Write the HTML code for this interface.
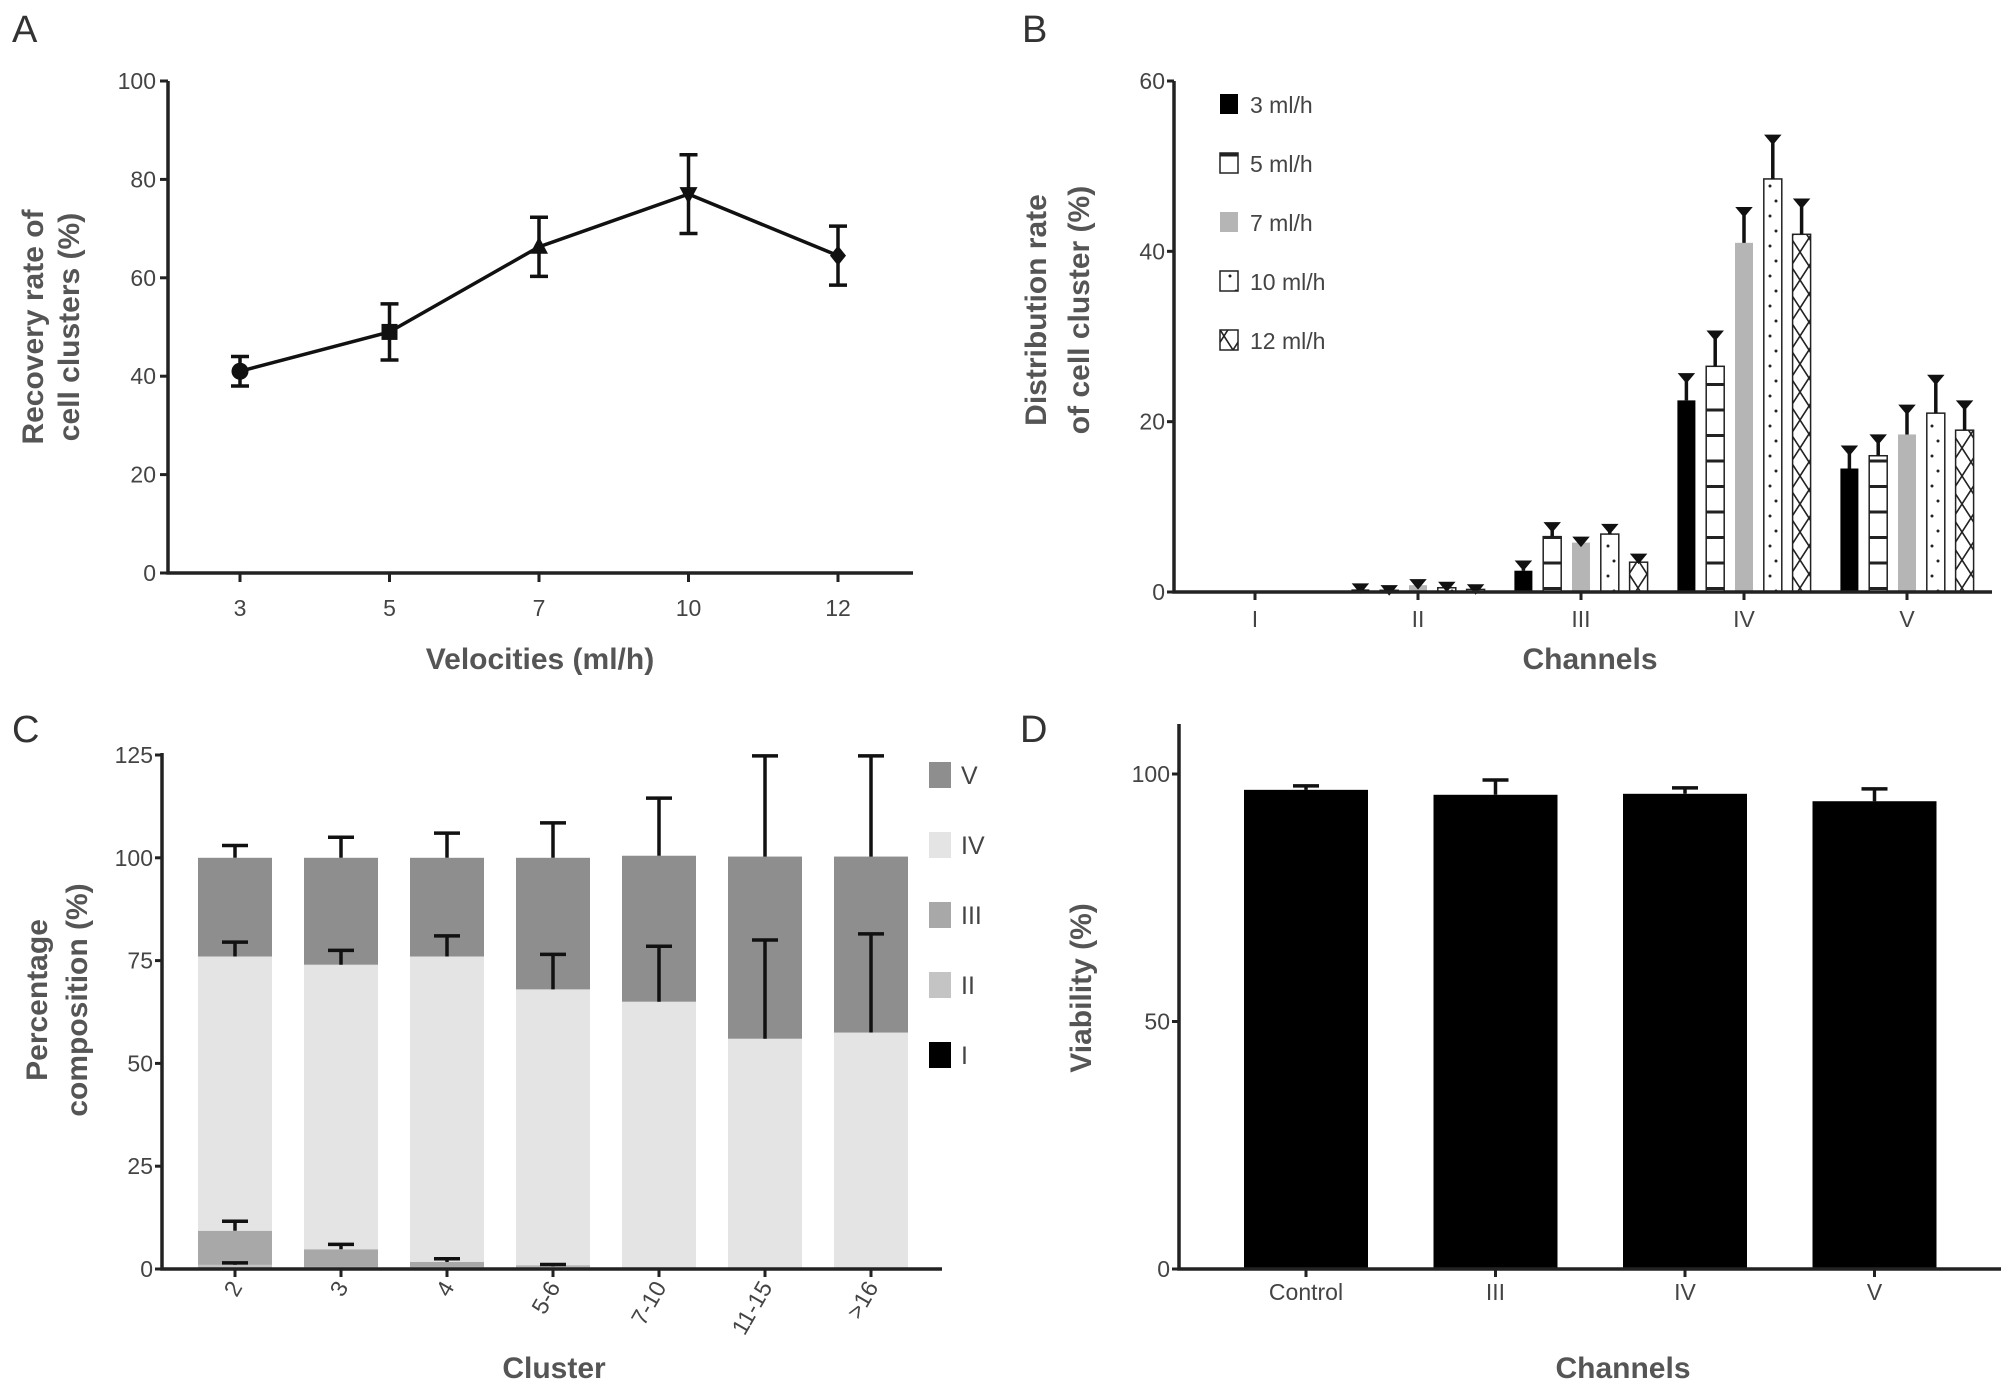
<!DOCTYPE html>
<html><head><meta charset="utf-8"><style>
html,body{margin:0;padding:0;background:#fff;}
svg{display:block;}
text{font-family:"Liberation Sans Narrow","Liberation Sans",sans-serif;fill:#444;}
.t{font-family:"Liberation Sans",sans-serif;font-weight:bold;fill:#555;font-size:30px;}
.p{font-family:"Liberation Sans",sans-serif;font-size:38px;fill:#333;}
</style></head><body>
<svg id="fig" width="2008" height="1391" viewBox="0 0 2008 1391" xmlns="http://www.w3.org/2000/svg">
<defs>
<pattern id="pH" width="18" height="25.5" patternUnits="userSpaceOnUse"><rect width="18" height="25.5" fill="#fff"/><line x1="0" y1="2" x2="18" y2="2" stroke="#222" stroke-width="3"/></pattern>
<pattern id="pD" width="18" height="30" patternUnits="userSpaceOnUse"><rect width="18" height="30" fill="#fff"/><circle cx="6" cy="6" r="1.5" fill="#222"/><circle cx="12" cy="21" r="1.5" fill="#222"/></pattern>
<pattern id="pX" width="18" height="28" patternUnits="userSpaceOnUse"><rect width="18" height="28" fill="#fff"/><path d="M0 0 L18 28 M18 0 L0 28" stroke="#222" stroke-width="1.6"/></pattern>
</defs>
<g id="gA"></g>
<g id="gB"></g>
<g id="gC"></g>
<g id="gD"></g>
</svg>
<script>
// Panel A data
const aCats = ["3","5","7","10","12"];
const aVals = [41, 49, 66.3, 77, 64.5];
const aErrs = [3, 5.7, 6, 8, 6];
const aTicks = [0,20,40,60,80,100];
// Panel B data
const bCats = ["I","II","III","IV","V"];
const bSeries = ["3 ml/h","5 ml/h","7 ml/h","10 ml/h","12 ml/h"];
const b3 = [0, 0.3, 2.5, 22.5, 14.5];
const b5 = [0, 0.2, 6.5, 26.5, 16];
const b7 = [0, 0.8, 5.8, 41, 18.5];
const b10 = [0, 0.5, 6.8, 48.5, 21];
const b12 = [0, 0.3, 3.5, 42, 19];
const b3e = [0, 0.5, 1, 3, 2.5];
const b5e = [0, 0.4, 1.5, 4, 2.3];
const b7e = [0, 0.5, 0.5, 4, 3.3];
const b10e = [0, 0.5, 1, 5, 4.3];
const b12e = [0, 0.4, 0.8, 4, 3.3];
const bTicks = [0,20,40,60];
// Panel C data
const cCats = ["2","3","4","5-6","7-10","11-15",">16"];
const cI = [0, 0, 0, 0.3, 0.1, 0, 0];
const cII = [1, 0.5, 0.5, 0.3, 0.1, 0, 0];
const cIII = [8.3, 4.3, 1.2, 0.3, 0.1, 0, 0];
const cIV = [66.7, 69.2, 74.3, 67.1, 64.7, 56, 57.5];
const cV = [24, 26, 24, 32, 35.5, 44.3, 42.8];
const cIIe = [0.5, 0, 0, 0.5, 0, 0, 0];
const cIIIe = [2.3, 1.2, 0.8, 0, 0, 0, 0];
const cIVe = [3.5, 3.5, 5, 8.5, 13.5, 24, 24];
const cVe = [3, 5, 6, 8.5, 14, 24.5, 24.5];
const cTicks = [0,25,50,75,100,125];
// Panel D data
const dCats = ["Control","III","IV","V"];
const dVals = [96.8, 95.8, 96, 94.5];
const dErrs = [0.8, 3, 1.2, 2.5];
const dTicks = [0,50,100];

const NS="http://www.w3.org/2000/svg";
function mk(parent, tag, attrs, txt){const e=document.createElementNS(NS,tag);for(const k in attrs)e.setAttribute(k,attrs[k]);if(txt!==undefined)e.textContent=txt;parent.appendChild(e);return e;}

// ---------- Panel A ----------
(function(){
const g=document.getElementById('gA');
const x0=168,x1=913,y0=573,y1=81;
const ys=v=>y0-(v/100)*(y0-y1);
const xs=i=>240+i*149.5;
let t=mk(g,'text',{x:12,y:42,class:'p'},'A');

let ax=mk(g,'path',{d:`M${x0} ${y1} V${y0} H${x1}`,stroke:'#222','stroke-width':3.5,fill:'none'});

aTicks.forEach(v=>{
 mk(g,'line',{x1:x0-8,x2:x0,y1:ys(v),y2:ys(v),stroke:'#222','stroke-width':3});
 const l=mk(g,'text',{x:x0-12,y:ys(v)+8,'text-anchor':'end','font-size':23},v);
 
});
aCats.forEach((c,i)=>{
 mk(g,'line',{x1:xs(i),x2:xs(i),y1:y0,y2:y0+9,stroke:'#222','stroke-width':3});
 const l=mk(g,'text',{x:xs(i),y:616,'text-anchor':'middle','font-size':23},c);
 
});
let pts=aVals.map((v,i)=>xs(i)+','+ys(v)).join(' ');
let ln=mk(g,'polyline',{points:pts,fill:'none',stroke:'#111','stroke-width':3.5});

aVals.forEach((v,i)=>{
 const x=xs(i),y=ys(v),yt=ys(v+aErrs[i]),yb=ys(v-aErrs[i]);
 const e=mk(g,'path',{d:`M${x} ${yt} V${yb} M${x-9} ${yt} H${x+9} M${x-9} ${yb} H${x+9}`,stroke:'#111','stroke-width':3.5,fill:'none'});
 
 let m;
 if(i==0)m=mk(g,'circle',{cx:x,cy:y,r:8.5,fill:'#111'});
 else if(i==1)m=mk(g,'rect',{x:x-8,y:y-8,width:16,height:16,fill:'#111'});
 else if(i==2)m=mk(g,'path',{d:`M${x} ${y-10} L${x+9} ${y+7} L${x-9} ${y+7}Z`,fill:'#111'});
 else if(i==3)m=mk(g,'path',{d:`M${x} ${y+10} L${x+9} ${y-7} L${x-9} ${y-7}Z`,fill:'#111'});
 else m=mk(g,'path',{d:`M${x} ${y-10} L${x+8} ${y} L${x} ${y+10} L${x-8} ${y}Z`,fill:'#111'});
 
});
t=mk(g,'text',{x:540,y:669,'text-anchor':'middle',class:'t'},'Velocities (ml/h)');

t=mk(g,'text',{transform:'translate(43 327) rotate(-90)','text-anchor':'middle',class:'t'},'Recovery rate of');

t=mk(g,'text',{transform:'translate(79 327) rotate(-90)','text-anchor':'middle',class:'t'},'cell clusters (%)');

})();

// ---------- Panel B ----------
(function(){
const g=document.getElementById('gB');
const x0=1174,x1=1992,y0=592,y1=81;
const ys=v=>y0-(v/60)*(y0-y1);
const cx=i=>1255+i*163;
const fills=['#000','url(#pH)','#b5b5b5','url(#pD)','url(#pX)'];
const vals=[b3,b5,b7,b10,b12], errs=[b3e,b5e,b7e,b10e,b12e];
let t=mk(g,'text',{x:1022,y:42,class:'p'},'B');

vals.forEach((arr,s)=>{arr.forEach((v,i)=>{
 if(v<=0)return;
 const x=cx(i)+(s-2)*28.8-9, y=ys(v);
 const r=mk(g,'rect',{x:x,y:y,width:18,height:y0-y,fill:fills[s],stroke:s==0||s==2?'none':'#222','stroke-width':1.5});
 
 const ye=ys(v+errs[s][i]);
 const e=mk(g,'path',{d:`M${x+9} ${y} V${ye+2} M${x+4} ${ye} H${x+14} L${x+9} ${ye+6}Z`,stroke:'#111','stroke-width':3.5,fill:'#111'});
 
});});
let ax=mk(g,'path',{d:`M${x0} ${y1} V${y0} H${x1}`,stroke:'#222','stroke-width':3.5,fill:'none'});

bTicks.forEach(v=>{
 mk(g,'line',{x1:x0-7,x2:x0,y1:ys(v),y2:ys(v),stroke:'#222','stroke-width':3});
 const l=mk(g,'text',{x:x0-9,y:ys(v)+8,'text-anchor':'end','font-size':23},v);
 
});
bCats.forEach((c,i)=>{
 mk(g,'line',{x1:cx(i),x2:cx(i),y1:y0,y2:y0+8,stroke:'#222','stroke-width':3});
 const l=mk(g,'text',{x:cx(i),y:627,'text-anchor':'middle','font-size':23},c);
 
});
bSeries.forEach((s,k)=>{
 const y=104+k*59;
 const r=mk(g,'rect',{x:1220,y:y-10,width:18,height:20,fill:fills[k],stroke:k==0||k==2?'none':'#222','stroke-width':1.5});
 
 const l=mk(g,'text',{x:1250,y:y+9,'font-size':23,fill:'#666'},s);
 
});
t=mk(g,'text',{x:1590,y:669,'text-anchor':'middle',class:'t'},'Channels');

t=mk(g,'text',{transform:'translate(1046 310) rotate(-90)','text-anchor':'middle',class:'t'},'Distribution rate');

t=mk(g,'text',{transform:'translate(1089 310) rotate(-90)','text-anchor':'middle',class:'t'},'of cell cluster (%)');

})();

// ---------- Panel C ----------
(function(){
const g=document.getElementById('gC');
const x0=162,x1=942,y0=1269,y1=755;
const ys=v=>y0-(v/125)*(y0-y1);
const cx=i=>235+i*106;
const segs=[cI,cII,cIII,cIV,cV], errs=[null,cIIe,cIIIe,cIVe,cVe];
const cols=['#000','#c4c4c4','#a8a8a8','#e4e4e4','#8e8e8e'];
const names=['I','II','III','IV','V'];
let t=mk(g,'text',{x:12,y:742,class:'p'},'C');

cCats.forEach((c,i)=>{
 let base=0;
 segs.forEach((arr,s)=>{
  const v=arr[i]; if(v<=0){return;}
  const r=mk(g,'rect',{x:cx(i)-37,y:ys(base+v),width:74,height:ys(base)-ys(base+v),fill:cols[s]});
  
  base+=v;
 });
 base=0;
 segs.forEach((arr,s)=>{
  const v=arr[i]; base+=v;
  if(!errs[s]||errs[s][i]<=0)return;
  const yt=ys(base), ye=ys(base+errs[s][i]);
  const e=mk(g,'path',{d:`M${cx(i)} ${yt} V${ye} M${cx(i)-13} ${ye} H${cx(i)+13}`,stroke:'#111','stroke-width':3.5,fill:'none'});
  
 });
});
let ax=mk(g,'path',{d:`M${x0} ${y1-2} V${y0} H${x1}`,stroke:'#222','stroke-width':3.5,fill:'none'});

cTicks.forEach(v=>{
 mk(g,'line',{x1:x0-7,x2:x0,y1:ys(v),y2:ys(v),stroke:'#222','stroke-width':3});
 const l=mk(g,'text',{x:x0-9,y:ys(v)+8,'text-anchor':'end','font-size':23},v);
 
});
cCats.forEach((c,i)=>{
 mk(g,'line',{x1:cx(i),x2:cx(i),y1:y0,y2:y0+8,stroke:'#222','stroke-width':3});
 const l=mk(g,'text',{transform:`translate(${cx(i)+8} 1287) rotate(-60)`,'text-anchor':'end','font-size':23},c);
 
});
[4,3,2,1,0].forEach((s,k)=>{
 const y=775+k*70;
 const r=mk(g,'rect',{x:929,y:y-13,width:22,height:26,fill:cols[s]});
 
 const l=mk(g,'text',{x:961,y:y+9,'font-size':25,fill:'#777'},names[s]);
 
});
t=mk(g,'text',{x:554,y:1378,'text-anchor':'middle',class:'t'},'Cluster');

t=mk(g,'text',{transform:'translate(47 1000) rotate(-90)','text-anchor':'middle',class:'t'},'Percentage');

t=mk(g,'text',{transform:'translate(87 1000) rotate(-90)','text-anchor':'middle',class:'t'},'composition (%)');

})();

// ---------- Panel D ----------
(function(){
const g=document.getElementById('gD');
const x0=1179,x1=2001,y0=1269,yTop=724;
const ys=v=>y0-(v/100)*(y0-774);
const cx=i=>1306+i*189.5;
let t=mk(g,'text',{x:1020,y:742,class:'p'},'D');

dVals.forEach((v,i)=>{
 const ye=ys(v+dErrs[i]);
 const e=mk(g,'path',{d:`M${cx(i)} ${ys(v)} V${ye} M${cx(i)-13} ${ye} H${cx(i)+13}`,stroke:'#111','stroke-width':3.5,fill:'none'});
 
 const r=mk(g,'rect',{x:cx(i)-62,y:ys(v),width:124,height:y0-ys(v),fill:'#000'});
 
});
let ax=mk(g,'path',{d:`M${x0} ${yTop} V${y0} H${x1}`,stroke:'#222','stroke-width':3.5,fill:'none'});

dTicks.forEach(v=>{
 mk(g,'line',{x1:x0-7,x2:x0,y1:ys(v),y2:ys(v),stroke:'#222','stroke-width':3});
 const l=mk(g,'text',{x:x0-9,y:ys(v)+8,'text-anchor':'end','font-size':23},v);
 
});
dCats.forEach((c,i)=>{
 mk(g,'line',{x1:cx(i),x2:cx(i),y1:y0,y2:y0+8,stroke:'#222','stroke-width':3});
 const l=mk(g,'text',{x:cx(i),y:1300,'text-anchor':'middle','font-size':23},c);
 
});
t=mk(g,'text',{x:1623,y:1378,'text-anchor':'middle',class:'t'},'Channels');

t=mk(g,'text',{transform:'translate(1091 988) rotate(-90)','text-anchor':'middle',class:'t'},'Viability (%)');

})();
</script>
</body></html>
